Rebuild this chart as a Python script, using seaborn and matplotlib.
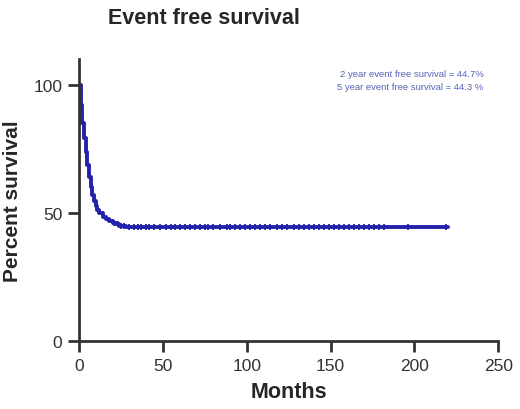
import pandas as pd
import matplotlib.pyplot as plt
import seaborn as sns

# Kaplan-Meier step data
months = [0, 1, 2, 3, 4, 5, 6, 7, 8, 9, 10, 11, 12, 14, 16, 18, 20, 22, 24, 26, 28, 60, 220]
survival = [100, 92, 85, 79, 73.5, 68.5, 64, 60, 57, 54.5, 52.5, 51, 50, 48.5, 47.5,
            46.8, 46, 45.5, 45, 44.7, 44.5, 44.3, 44.3]

# censored observations (months)
censor_months = [21, 23, 25, 27, 30, 33, 35, 37, 40, 42, 45, 48, 52, 55, 57, 60, 63, 66,
                 69, 72, 75, 77, 80, 84, 88, 90, 93, 96, 99, 102, 105, 108, 111, 114,
                 118, 121, 124, 128, 131, 134, 137, 140, 143, 146, 149, 152, 155, 158,
                 161, 164, 167, 170, 173, 176, 179, 182, 196, 219]

notes = ["2 year event free survival = 44.7%", "5 year event free survival = 44.3 %"]

sns.set_style("ticks")
plt.rcParams['font.family'] = ['Liberation Sans', 'DejaVu Sans']

df = pd.DataFrame({'Months': months, 'Percent survival': survival})
cens = pd.DataFrame({'Months': censor_months})
cens['Percent survival'] = [s for s in pd.Series(survival, index=months).reindex(
    sorted(set(months) | set(censor_months))).ffill().loc[censor_months]]

line_color = '#2222aa'

fig = plt.figure(figsize=(5.2, 4.1), dpi=100)
ax = fig.add_axes([0.152, 0.166, 0.806, 0.688])

sns.lineplot(data=df, x='Months', y='Percent survival', drawstyle='steps-post',
             color=line_color, linewidth=2.8, ax=ax)
sns.scatterplot(data=cens, x='Months', y='Percent survival', marker='|', s=22,
                color=line_color, linewidth=1.3, ax=ax, zorder=3)

ax.set_xlim(0, 250)
ax.set_ylim(0, 110)
ax.set_xticks([0, 50, 100, 150, 200, 250])
ax.set_yticks([0, 50, 100])
ax.set_xlabel('Months', fontsize=15.5, fontweight='bold', labelpad=6)
ax.set_ylabel('Percent survival', fontsize=15, fontweight='bold', labelpad=8)
ax.tick_params(axis='both', labelsize=12.5, width=2, length=8, pad=4, colors='#333333')
sns.despine(ax=ax)
for side in ['left', 'bottom']:
    ax.spines[side].set_linewidth(2)
    ax.spines[side].set_color('#333333')

fig.text(0.393, 0.955, 'Event free survival', fontsize=15.5, fontweight='bold',
         ha='center', va='center')

ax.text(0.965, 0.965, notes[0] + '\n' + notes[1], transform=ax.transAxes, fontsize=6.8,
        color='#5563b5', ha='right', va='top', linespacing=1.6)

plt.savefig('out.png', dpi=100)
